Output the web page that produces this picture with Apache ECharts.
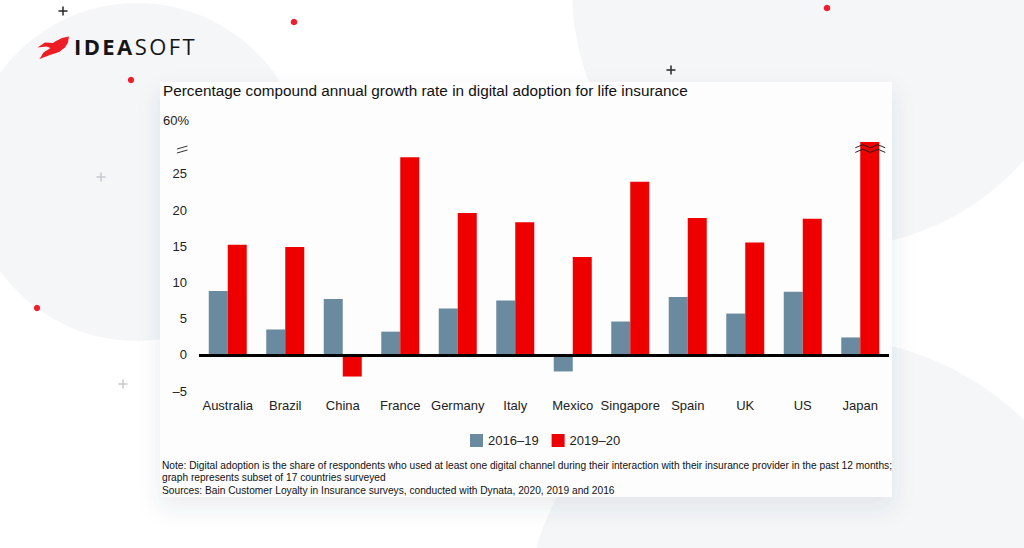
<!DOCTYPE html>
<html>
<head>
<meta charset="utf-8">
<script src="https://cdn.jsdelivr.net/npm/echarts@6/dist/echarts.min.js"></script>
<style>
html,body{margin:0;padding:0;background:#ffffff;}
#chart{width:1024px;height:548px;}
</style>
</head>
<body>
<div id="chart"></div>
<script>
// ---- data ----
var categories = ['Australia', 'Brazil', 'China', 'France', 'Germany', 'Italy', 'Mexico', 'Singapore', 'Spain', 'UK', 'US', 'Japan'];
var seriesNames = ['2016–19', '2019–20'];
var growth2016_19 = [8.8, 3.5, 7.7, 3.2, 6.4, 7.5, -2.3, 4.6, 8.0, 5.7, 8.7, 2.4];
var growth2019_20 = [15.2, 14.9, -3.0, 27.3, 19.6, 18.3, 13.5, 23.9, 18.9, 15.5, 18.8, 58];
var yTickLabels = [-5, 0, 5, 10, 15, 20, 25];
var yTopLabel = '60%';
var breakValue = 28.5;      // where the axis is broken
var titleText = 'Percentage compound annual growth rate in digital adoption for life insurance';
var noteLines = [
  'Note: Digital adoption is the share of respondents who used at least one digital channel during their interaction with their insurance provider in the past 12 months;',
  'graph represents subset of 17 countries surveyed',
  'Sources: Bain Customer Loyalty in Insurance surveys, conducted with Dynata, 2020, 2019 and 2016'
];

var FONT = 'Liberation Sans, Arial, sans-serif';
var BLUE = '#6a8a9f';
var RED = '#ee0000';
var BG = '#f4f6f8';

var chart = echarts.init(document.getElementById('chart'), null, {renderer: 'svg'});

function plus(x, y, color) {
  return [
    {type: 'line', z: -50, shape: {x1: x - 4.5, y1: y, x2: x + 4.5, y2: y}, style: {stroke: color, lineWidth: 1.6}},
    {type: 'line', z: -50, shape: {x1: x, y1: y - 4.5, x2: x, y2: y + 4.5}, style: {stroke: color, lineWidth: 1.6}}
  ];
}
function dot(x, y, r) {
  return {type: 'circle', z: -50, shape: {cx: x, cy: y, r: r}, style: {fill: '#f01e2c'}};
}

var logoBold = 'IDEA', logoLight = 'SOFT';
var logoText = logoBold.split('').map(function (c) { return '{b|' + c + '}'; }).join('') +
               logoLight.split('').map(function (c) { return '{r|' + c + '}'; }).join('');

var graphics = [
  {type: 'circle', z: -100, shape: {cx: 137, cy: 172, r: 169}, style: {fill: BG}},
  {type: 'circle', z: -100, shape: {cx: 830, cy: -10, r: 258}, style: {fill: BG}},
  {type: 'circle', z: -100, shape: {cx: 819, cy: 632, r: 295}, style: {fill: BG}},
  {type: 'rect', z: -60, shape: {x: 160, y: 82, width: 732, height: 415},
    style: {fill: '#fdfdfd', shadowBlur: 22, shadowColor: 'rgba(60,70,90,0.10)', shadowOffsetY: 10}},
  dot(294, 22, 3.3), dot(131, 80, 3.2), dot(827, 8, 3.3), dot(37, 308, 3.2),
  // logo icon
  {type: 'polygon', z: -50, shape: {points: [[69, 36.5], [62, 38], [56, 41], [53, 43], [45, 42.5], [37.5, 47.5], [46.5, 46.5], [50.5, 48], [43.5, 52.5], [39.5, 59], [50, 55], [59, 52], [65, 47.5], [68, 42.5]]},
    style: {fill: '#ee1c25'}},
  {type: 'text', z: -50, left: 74, top: 35,
    style: {text: logoText, rich: {
      b: {fontFamily: 'Open Sans, Lato, sans-serif', fontWeight: 'bold', fontSize: 22, fill: '#151515', padding: [0, 1.2, 0, 1.2]},
      r: {fontFamily: 'Open Sans, Lato, sans-serif', fontWeight: 'normal', fontSize: 22, fill: '#151515', padding: [0, 1.2, 0, 1.2]}
    }}},
  // title
  {type: 'text', z: 5, left: 163, top: 83, style: {text: titleText, font: '15.3px ' + FONT, fill: '#111'}},
  // note
  {type: 'text', z: 5, left: 162, top: 459, style: {text: noteLines.join('\n'), font: '10.2px ' + FONT, lineHeight: 12.5, fill: '#111'}},
  // 60% label
  {type: 'text', z: 5, left: 163, top: 114, style: {text: yTopLabel, font: '13px ' + FONT, fill: '#222'}}
].concat(plus(63, 11, '#333'), plus(671, 70, '#333'), plus(101, 177, '#c8ccd0'), plus(123, 384, '#c8ccd0'));

function zigzag(x0, x1, y, amp) {
  var pts = [];
  var n = 4;
  for (var i = 0; i <= n; i++) {
    var x = x0 + (x1 - x0) * i / n;
    pts.push([x, y + (i % 2 === 0 ? amp : -amp)]);
  }
  return pts;
}

var option = {
  animation: false,
  textStyle: {fontFamily: FONT},
  graphic: graphics,
  grid: {left: 199, right: 135, top: 142, bottom: 157, containLabel: false},
  legend: {
    left: 465, top: 429, itemWidth: 13, itemHeight: 13, itemGap: 13,
    icon: 'rect',
    textStyle: {fontSize: 13, color: '#222', fontFamily: FONT},
    data: seriesNames
  },
  xAxis: {
    type: 'category',
    data: categories,
    axisLine: {show: false, onZero: false},
    axisTick: {show: false},
    axisLabel: {fontSize: 13, color: '#222', margin: 8, fontFamily: FONT, interval: 0}
  },
  yAxis: {
    type: 'value',
    min: -5, max: 29.4, interval: 5,
    splitLine: {show: false},
    axisLine: {show: false},
    axisTick: {show: false},
    axisLabel: {
      fontSize: 13, color: '#222', margin: 12, fontFamily: FONT,
      showMaxLabel: false,
      formatter: function (v) { return yTickLabels.indexOf(v) >= 0 ? (v < 0 ? '–' + Math.abs(v) : String(v)) : ''; }
    }
  },
  series: [
    {
      name: seriesNames[0], type: 'bar', data: growth2016_19,
      barWidth: 19, barGap: '0%', itemStyle: {color: BLUE}, clip: true
    },
    {
      name: seriesNames[1], type: 'bar', data: growth2019_20,
      barWidth: 19, barGap: '0%', itemStyle: {color: RED}, clip: true,
      markLine: {
        silent: true, symbol: 'none', label: {show: false},
        lineStyle: {color: '#000', width: 3, type: 'solid'},
        data: [{yAxis: 0}]
      }
    },
    {
      type: 'custom', z: 10, silent: true,
      data: [[categories.length - 1, breakValue]],
      renderItem: function (params, api) {
        var p = api.coord([api.value(0), api.value(1)]);
        var band = api.size([1, 0])[0];
        var gridLeft = api.coord([0, 0])[0] - band / 2;
        var cx = p[0], cy = p[1];
        return {
          type: 'group',
          children: [
            {type: 'polyline', shape: {points: zigzag(cx - 5, cx + 25, cy - 2.3, 1.6)}, style: {stroke: '#222', lineWidth: 1, fill: null}},
            {type: 'polyline', shape: {points: zigzag(cx - 5, cx + 25, cy + 2.3, 1.6)}, style: {stroke: '#222', lineWidth: 1, fill: null}},
            {type: 'line', shape: {x1: gridLeft - 22, y1: cy + 0.5, x2: gridLeft - 11.5, y2: cy - 2.5}, style: {stroke: '#333', lineWidth: 1}},
            {type: 'line', shape: {x1: gridLeft - 22, y1: cy + 4.5, x2: gridLeft - 11.5, y2: cy + 1.5}, style: {stroke: '#333', lineWidth: 1}}
          ]
        };
      }
    }
  ]
};
chart.setOption(option);
</script>
</body>
</html>
